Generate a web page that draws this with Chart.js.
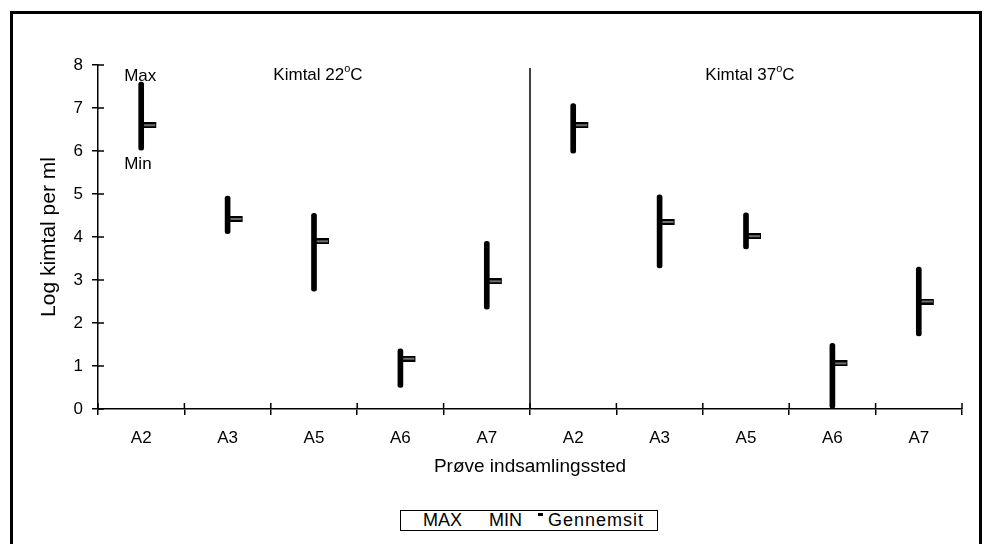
<!DOCTYPE html>
<html>
<head>
<meta charset="utf-8">
<script src="https://cdn.jsdelivr.net/npm/chart.js@4"></script>
<style>
  body { margin: 0; background: #fff; font-family: "Liberation Sans", Arial, sans-serif; }
  #wrap { position: relative; width: 984px; height: 544px; overflow: hidden; }
  #frame { position: absolute; left: 10px; top: 11px; width: 966px; height: 540px; border: 3px solid #000; }
  #chart { position: absolute; left: 0; top: 0; }
  #legend { position: absolute; left: 400px; top: 510px; width: 256px; height: 19px; border: 1px solid #000; background: #fff; font-size: 18px; color: #000; }
  #legend span { position: absolute; top: 0px; line-height: 18px; }
  #legend .dash { top: 2px; width: 5px; height: 3px; background: #000; }
</style>
</head>
<body>
<div id="wrap">
  <div id="frame"></div>
  <canvas id="chart" width="984" height="544"></canvas>
  <div id="legend">
    <span style="left:22px">MAX</span>
    <span style="left:88px">MIN</span>
    <span class="dash" style="left:137px"></span>
    <span style="left:147px; letter-spacing:1px">Gennemsit</span>
  </div>
</div>
<script>
const categories = ["A2", "A3", "A5", "A6", "A7", "A2", "A3", "A5", "A6", "A7"];
const maxValues = [7.6, 4.95, 4.55, 1.4, 3.9, 7.1, 4.98, 4.56, 1.53, 3.3];
const minValues = [6.02, 4.08, 2.74, 0.5, 2.32, 5.95, 3.28, 3.72, 0.0, 1.7];
const meanValues = [6.6, 4.42, 3.9, 1.17, 2.97, 6.6, 4.35, 4.02, 1.06, 2.5];
const yTicks = [0, 1, 2, 3, 4, 5, 6, 7, 8];
const groupTitles = ["Kimtal 22", "Kimtal 37"];

const FONT = "'Liberation Sans', Arial, sans-serif";

// close marker: small outlined bar to the right of the high-low line
function makeMarker() {
    const c = document.createElement("canvas");
    c.width = 34;
    c.height = 6;
    const g = c.getContext("2d");
    g.fillStyle = "#000";
    g.fillRect(17, 0, 15, 6);
    g.fillStyle = "#ddd";
    g.fillRect(18, 2.5, 13, 1);
    return c;
}

const extras = {
    id: "extras",
    afterDraw(chart) {
        const ctx = chart.ctx;
        const x = chart.scales.x;
        const y = chart.scales.y;
        const area = chart.chartArea;
        ctx.save();
        ctx.strokeStyle = "#000";
        ctx.lineWidth = 1.5;
        // inward halves of the tick marks
        yTicks.forEach(v => {
            const py = y.getPixelForValue(v);
            ctx.beginPath();
            ctx.moveTo(area.left, py);
            ctx.lineTo(area.left + 6, py);
            ctx.stroke();
        });
        const step = (area.right - area.left) / categories.length;
        for (let i = 0; i <= categories.length; i++) {
            const px = area.left + i * step;
            ctx.beginPath();
            ctx.moveTo(px, area.bottom);
            ctx.lineTo(px, area.bottom - 6);
            ctx.stroke();
        }
        // separator between the two temperature groups
        const sep = (x.getPixelForValue(4) + x.getPixelForValue(5)) / 2;
        ctx.beginPath();
        ctx.moveTo(sep, y.getPixelForValue(7.93));
        ctx.lineTo(sep, area.bottom);
        ctx.stroke();

        ctx.fillStyle = "#000";
        ctx.textBaseline = "middle";
        // group titles with superscript degree
        const half = [(area.left + sep) / 2, (sep + area.right) / 2];
        groupTitles.forEach((t, i) => {
            ctx.font = "17px " + FONT;
            const w1 = ctx.measureText(t).width;
            ctx.font = "11px " + FONT;
            const w2 = ctx.measureText("o").width;
            ctx.font = "17px " + FONT;
            const w3 = ctx.measureText("C").width;
            let sx = half[i] - (w1 + w2 + w3) / 2 + 4;
            const ty = y.getPixelForValue(7.76);
            ctx.textAlign = "left";
            ctx.fillText(t, sx, ty);
            ctx.font = "11px " + FONT;
            ctx.fillText("o", sx + w1, ty - 6);
            ctx.font = "17px " + FONT;
            ctx.fillText("C", sx + w1 + w2, ty);
        });
        // Max / Min labels on the first range
        const p0 = x.getPixelForValue(0);
        ctx.font = "17px " + FONT;
        ctx.textAlign = "left";
        ctx.fillText("Max", p0 - 17, y.getPixelForValue(7.74));
        ctx.fillText("Min", p0 - 17, y.getPixelForValue(5.7));
        // axis titles
        ctx.font = "19px " + FONT;
        ctx.textAlign = "center";
        ctx.fillText("Prøve indsamlingssted", (area.left + area.right) / 2, 467);
        ctx.font = "21px " + FONT;
        ctx.translate(49, (area.top + area.bottom) / 2);
        ctx.rotate(-Math.PI / 2);
        ctx.fillText("Log kimtal per ml", 0, 0);
        ctx.restore();
    }
};

const ranges = maxValues.map((hi, i) => [minValues[i], hi]);

new Chart(document.getElementById("chart"), {
    type: "bar",
    data: {
        labels: categories,
        datasets: [{
            label: "MAX / MIN",
            data: ranges,
            backgroundColor: "#000",
            barThickness: 5,
            borderRadius: 3,
            borderSkipped: false
        }, {
            type: "line",
            label: "Gennemsnit",
            data: meanValues,
            showLine: false,
            pointStyle: makeMarker(),
            pointRadius: 6,
            pointHoverRadius: 6
        }]
    },
    options: {
        responsive: false,
        animation: false,
        events: [],
        layout: { padding: { top: 65, right: 22, bottom: 0, left: 0 } },
        plugins: {
            legend: { display: false },
            tooltip: { enabled: false }
        },
        scales: {
            x: {
                afterFit: s => { s.height = 135; },
                ticks: { color: "#000", font: { size: 17, family: FONT }, padding: 13, maxRotation: 0 },
                grid: { offset: true, drawOnChartArea: false, tickLength: 6, color: "#000", lineWidth: 1.5 },
                border: { color: "#000", width: 1.5 }
            },
            y: {
                min: 0,
                max: 8,
                afterFit: s => { s.width = 98; },
                ticks: { stepSize: 1, color: "#000", font: { size: 17, family: FONT }, padding: 9 },
                grid: { drawOnChartArea: false, tickLength: 6, color: "#000", lineWidth: 1.5 },
                border: { color: "#000", width: 1.5 }
            }
        }
    },
    plugins: [extras]
});
</script>
</body>
</html>
